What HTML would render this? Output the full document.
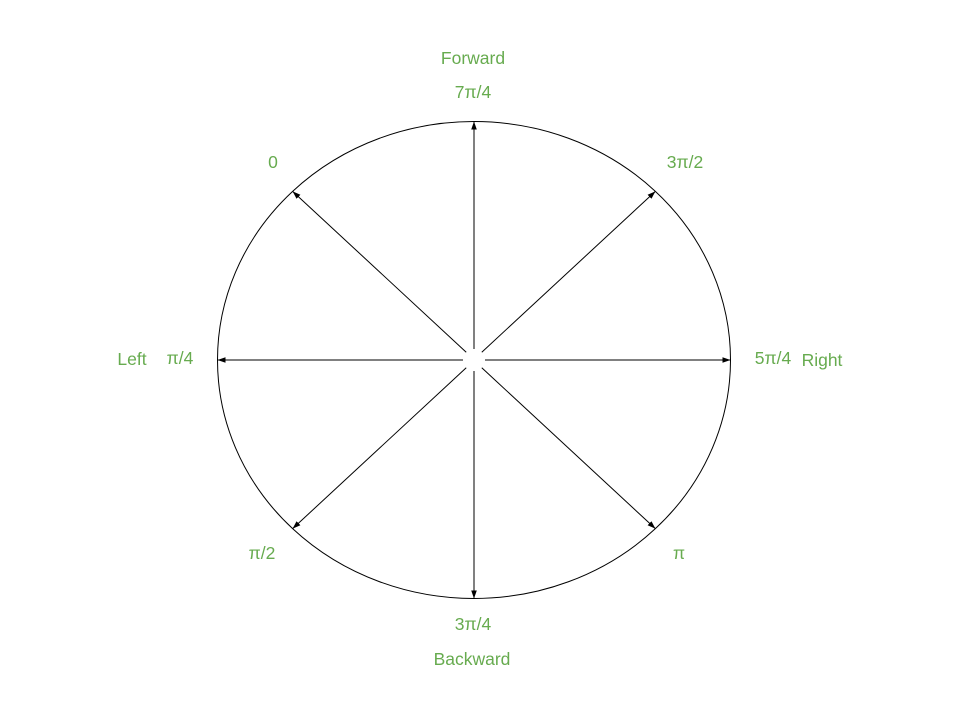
<!DOCTYPE html>
<html><head><meta charset="utf-8">
<style>
html,body{margin:0;padding:0;background:#fff;}
svg{display:block;}
text{font-family:"Liberation Sans",sans-serif;fill:#67ab4f;}
</style></head>
<body>
<svg id="chart" width="960" height="720" viewBox="0 0 960 720">
<defs>
<marker id="ah" viewBox="0 0 10 10" refX="10" refY="5" markerWidth="8" markerHeight="8" markerUnits="userSpaceOnUse" orient="auto">
<path d="M0,1.5 L10,5 L0,8.5 Z" fill="#000"/>
</marker>
</defs>
<ellipse cx="474" cy="360" rx="256.5" ry="238.5" fill="none" stroke="#000" stroke-width="1"/>
<g id="arrows"></g>
<text x="473" y="64" font-size="17.5" text-anchor="middle">Forward</text>
<text x="472" y="665" font-size="17.5" text-anchor="middle">Backward</text>
<text x="132" y="365" font-size="17.5" text-anchor="middle">Left</text>
<text x="822" y="366" font-size="17.5" text-anchor="middle">Right</text>
<text x="473" y="98" font-size="17.5" text-anchor="middle">7π/4</text>
<text x="685" y="168" font-size="17.5" text-anchor="middle">3π/2</text>
<text x="273" y="168" font-size="17.5" text-anchor="middle">0</text>
<text x="180" y="364" font-size="17.5" text-anchor="middle">π/4</text>
<text x="773" y="364" font-size="17.5" text-anchor="middle">5π/4</text>
<text x="262" y="559" font-size="17.5" text-anchor="middle">π/2</text>
<text x="679" y="559" font-size="17.5" text-anchor="middle">π</text>
<text x="473" y="630" font-size="17.5" text-anchor="middle">3π/4</text>
</svg>
<script>
const directionNames = ['forward','forward-right','right','back-right','backward','back-left','left','forward-left'];
const directionAngles = [90,45,0,-45,-90,-135,180,135];
const cx=474, cy=360, rx=256.5, ry=238.5;
const g=document.getElementById('arrows');
directionAngles.forEach((a,i)=>{
  const r=a*Math.PI/180, c=Math.cos(r), s=Math.sin(r);
  const gap=11;
  const l=document.createElementNS('http://www.w3.org/2000/svg','line');
  l.setAttribute('x1',cx+gap*c); l.setAttribute('y1',cy-gap*s);
  l.setAttribute('x2',cx+rx*c); l.setAttribute('y2',cy-ry*s);
  l.setAttribute('stroke','#000'); l.setAttribute('stroke-width','1');
  l.setAttribute('marker-end','url(#ah)');
  
  
  g.appendChild(l);
});
</script>
</body></html>
